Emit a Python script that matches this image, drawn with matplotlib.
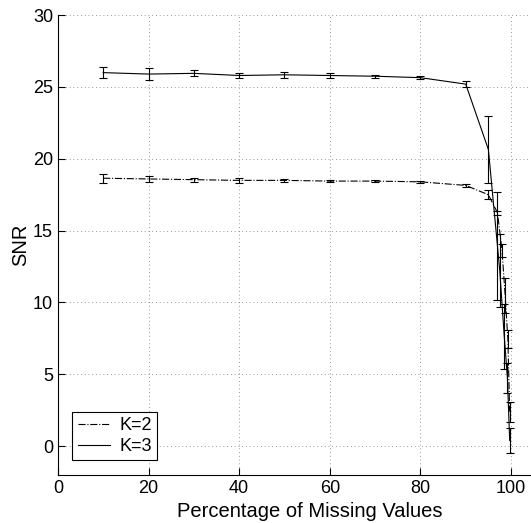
import numpy as np
import matplotlib
matplotlib.use("Agg")
import matplotlib.pyplot as plt
from matplotlib.lines import Line2D

# percentage of missing values
pct_k2 = [10, 20, 30, 40, 50, 60, 70, 80, 90, 95, 97, 98, 98.7, 99.3, 99.7]
snr_k2 = [18.65, 18.6, 18.55, 18.5, 18.5, 18.45, 18.45, 18.4, 18.15,
          17.5, 16.25, 13.65, 10.5, 7.45, 2.4]
err_k2 = [0.3, 0.2, 0.15, 0.15, 0.1, 0.05, 0.05, 0.05, 0.1,
          0.3, 0.15, 0.45, 1.2, 0.65, 0.7]

pct_k3 = [10, 20, 30, 40, 50, 60, 70, 80, 90, 95, 97, 97.5, 98.5, 99.2, 99.7]
snr_k3 = [26.0, 25.9, 25.95, 25.8, 25.85, 25.8, 25.75, 25.65, 25.2,
          20.65, 13.95, 12.25, 7.65, 4.75, 0.4]
err_k3 = [0.4, 0.4, 0.2, 0.2, 0.2, 0.15, 0.1, 0.1, 0.2,
          2.35, 3.75, 2.55, 2.25, 1.05, 0.85]

xticks = [0, 20, 40, 60, 80, 100]
yticks = [0, 5, 10, 15, 20, 25, 30]

plt.rcParams['font.family'] = ['Liberation Sans', 'DejaVu Sans']

fig = plt.figure(figsize=(5.31, 5.23), dpi=100)
# axes run past the right edge of the figure, as in the original export
ax = fig.add_axes([0.109, 0.092, 0.949, 0.879])

ax.errorbar(pct_k2, snr_k2, yerr=err_k2, fmt='-.', color='black', lw=0.8,
            elinewidth=0.8, capsize=3, capthick=0.8)
ax.errorbar(pct_k3, snr_k3, yerr=err_k3, fmt='-', color='black', lw=0.8,
            elinewidth=0.8, capsize=3, capthick=0.8)

ax.set_xlim(0, 111.2)
ax.set_ylim(-2, 30)
ax.set_xticks(xticks)
ax.set_yticks(yticks)
ax.grid(True, linestyle=(0, (1, 3.5)), color='#777777', linewidth=0.6)
ax.tick_params(direction='in', length=5, labelsize=13, width=0.8)
for s in ['top', 'right']:
    ax.spines[s].set_visible(False)
for s in ['left', 'bottom']:
    ax.spines[s].set_linewidth(0.8)

ax.set_xlabel('Percentage of Missing Values', fontsize=14.5, labelpad=4)
ax.set_ylabel('SNR', fontsize=14.5, labelpad=2)

handles = [Line2D([], [], color='black', ls='-.', lw=0.8),
           Line2D([], [], color='black', ls='-', lw=0.8)]
leg = ax.legend(handles, ['K=2', 'K=3'], loc='lower left', fontsize=13,
                frameon=True, fancybox=False, edgecolor='black', framealpha=1,
                borderaxespad=0.8, handlelength=1.8, handletextpad=0.5,
                borderpad=0.3, labelspacing=0.2)
leg.get_frame().set_linewidth(0.8)

fig.savefig('out.png', dpi=100)
